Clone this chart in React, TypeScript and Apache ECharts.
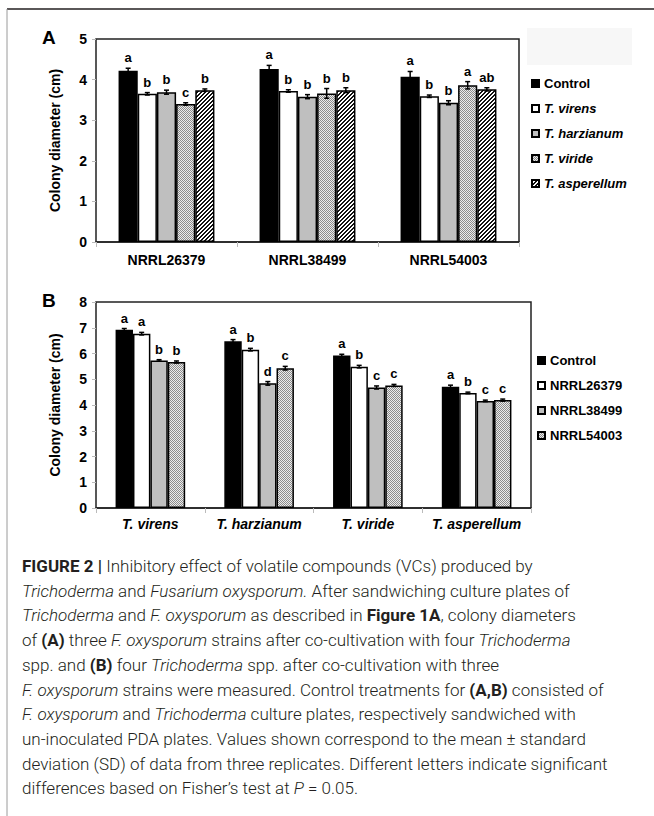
import React, { useEffect, useRef } from "react";
import * as echarts from "echarts";

// ---------- DATA ----------
const strainsA = ["NRRL26379", "NRRL38499", "NRRL54003"];
const seriesNamesA = ["Control", "T. virens", "T. harzianum", "T. viride", "T. asperellum"];
const controlA = [4.22, 4.26, 4.07];
const virensA = [3.65, 3.72, 3.59];
const harzianumA = [3.69, 3.58, 3.43];
const virideA = [3.4, 3.66, 3.86];
const asperellumA = [3.74, 3.74, 3.76];
const controlErrA = [0.06, 0.09, 0.13];
const virensErrA = [0.03, 0.03, 0.03];
const harzianumErrA = [0.05, 0.05, 0.05];
const virideErrA = [0.03, 0.12, 0.09];
const asperellumErrA = [0.03, 0.06, 0.04];
const controlLetA = ["a", "a", "a"];
const virensLetA = ["b", "b", "b"];
const harzianumLetA = ["b", "b", "b"];
const virideLetA = ["c", "b", "a"];
const asperellumLetA = ["b", "b", "ab"];

const speciesB = ["T. virens", "T. harzianum", "T. viride", "T. asperellum"];
const seriesNamesB = ["Control", "NRRL26379", "NRRL38499", "NRRL54003"];
const controlB = [6.92, 6.48, 5.92, 4.71];
const nrrl26379B = [6.77, 6.15, 5.49, 4.47];
const nrrl38499B = [5.73, 4.84, 4.68, 4.16];
const nrrl54003B = [5.67, 5.43, 4.76, 4.19];
const controlErrB = [0.05, 0.06, 0.05, 0.06];
const nrrl26379ErrB = [0.05, 0.05, 0.05, 0.03];
const nrrl38499ErrB = [0.03, 0.07, 0.06, 0.03];
const nrrl54003ErrB = [0.04, 0.07, 0.04, 0.04];
const controlLetB = ["a", "a", "a", "a"];
const nrrl26379LetB = ["a", "b", "b", "b"];
const nrrl38499LetB = ["b", "d", "c", "c"];
const nrrl54003LetB = ["b", "c", "c", "c"];

const yTicksA = { min: 0, max: 5, interval: 1 };
const yTicksB = { min: 0, max: 8, interval: 1 };

const captionLines = [
  "{b|FIGURE 2 |} Inhibitory effect of volatile compounds (VCs) produced by",
  "{i|Trichoderma} and {i|Fusarium oxysporum.} After sandwiching culture plates of",
  "{i|Trichoderma} and {i|F. oxysporum} as described in {b|Figure 1A}, colony diameters",
  "of {b|(A)} three {i|F. oxysporum} strains after co-cultivation with four {i|Trichoderma}",
  "spp. and {b|(B)} four {i|Trichoderma} spp. after co-cultivation with three",
  "{i|F. oxysporum} strains were measured. Control treatments for {b|(A,B)} consisted of",
  "{i|F. oxysporum} and {i|Trichoderma} culture plates, respectively sandwiched with",
  "un-inoculated PDA plates. Values shown correspond to the mean \u00b1 standard",
  "deviation (SD) of data from three replicates. Different letters indicate significant",
  "differences based on Fisher\u2019s test at {i|P} = 0.05.",
];

const FONT = "'Liberation Sans', Arial, sans-serif";
const CAP_FONT = "Roboto, 'Liberation Sans', sans-serif";

function makeChecker() {
  const c = document.createElement("canvas");
  c.width = 4;
  c.height = 4;
  const ctx = c.getContext("2d")!;
  ctx.fillStyle = "#ececec";
  ctx.fillRect(0, 0, 4, 4);
  ctx.fillStyle = "#8c8c8c";
  for (let y = 0; y < 4; y++)
    for (let x = 0; x < 4; x++) if ((x + y) % 2 === 0) ctx.fillRect(x, y, 1, 1);
  return { image: c, repeat: "repeat", imageWidth: 4, imageHeight: 4 };
}

function makeHatch() {
  const c = document.createElement("canvas");
  c.width = 4;
  c.height = 4;
  const ctx = c.getContext("2d")!;
  ctx.fillStyle = "#ffffff";
  ctx.fillRect(0, 0, 4, 4);
  ctx.fillStyle = "#111111";
  for (let y = 0; y < 4; y++)
    for (let x = 0; x < 4; x++) if ((x + y) % 4 < 2) ctx.fillRect(x, y, 1, 1);
  return { image: c, repeat: "repeat", imageWidth: 4, imageHeight: 4 };
}

function errSeries(
  axisIdx: number,
  sIdx: number,
  n: number,
  gap: number,
  vals: number[],
  errs: number[],
  letters: string[]
) {
  return {
    type: "custom",
    xAxisIndex: axisIdx,
    yAxisIndex: axisIdx,
    silent: true,
    z: 5,
    data: vals.map((v, i) => [i, v, errs[i]]),
    renderItem: (params: any, api: any) => {
      const ci = api.value(0);
      const v = api.value(1);
      const e = api.value(2);
      const band = api.size([1, 0])[0];
      const groupW = band * (1 - gap);
      const barW = groupW / n;
      const cx = api.coord([ci, 0])[0] - groupW / 2 + barW * (sIdx + 0.5);
      const yTop = api.coord([ci, v + e])[1];
      const yBot = api.coord([ci, v - e])[1];
      const st = { stroke: "#000", lineWidth: 1.5 };
      return {
        type: "group",
        children: [
          { type: "line", shape: { x1: cx, y1: yTop, x2: cx, y2: yBot }, style: st },
          { type: "line", shape: { x1: cx - 2.5, y1: yTop, x2: cx + 2.5, y2: yTop }, style: st },
          { type: "line", shape: { x1: cx - 2.5, y1: yBot, x2: cx + 2.5, y2: yBot }, style: st },
          {
            type: "text",
            x: cx,
            y: yTop - 4,
            style: {
              text: letters[params.dataIndex],
              fill: "#000",
              font: `bold 13px ${FONT}`,
              align: "center",
              verticalAlign: "bottom",
            },
          },
        ],
      };
    },
  };
}

export default function App() {
  const ref = useRef<HTMLDivElement>(null);

  useEffect(() => {
    if (!ref.current) return;
    const chart = echarts.init(ref.current, undefined, { renderer: "svg" });
    const checker = makeChecker();
    const hatch = makeHatch();
    const border = { borderColor: "#000", borderWidth: 1.5 };

    const colorsA: any[] = ["#000000", "#ffffff", "#bfbfbf", checker, hatch];
    const valsA = [controlA, virensA, harzianumA, virideA, asperellumA];
    const errsA = [controlErrA, virensErrA, harzianumErrA, virideErrA, asperellumErrA];
    const letsA = [controlLetA, virensLetA, harzianumLetA, virideLetA, asperellumLetA];
    const gapA = 0.32;

    const colorsB: any[] = ["#000000", "#ffffff", "#bfbfbf", checker];
    const valsB = [controlB, nrrl26379B, nrrl38499B, nrrl54003B];
    const errsB = [controlErrB, nrrl26379ErrB, nrrl38499ErrB, nrrl54003ErrB];
    const letsB = [controlLetB, nrrl26379LetB, nrrl38499LetB, nrrl54003LetB];
    const gapB = 0.36;

    const barsA = seriesNamesA.map((name, i) => ({
      type: "bar",
      name,
      xAxisIndex: 0,
      yAxisIndex: 0,
      data: valsA[i],
      barGap: "0%",
      barCategoryGap: gapA * 100 + "%",
      itemStyle: { color: colorsA[i], ...border },
    }));
    const barsB = seriesNamesB.map((name, i) => ({
      type: "bar",
      name,
      xAxisIndex: 1,
      yAxisIndex: 1,
      data: valsB[i],
      barGap: "0%",
      barCategoryGap: gapB * 100 + "%",
      itemStyle: { color: colorsB[i], ...border },
    }));
    const errA = seriesNamesA.map((_, i) =>
      errSeries(0, i, seriesNamesA.length, gapA, valsA[i], errsA[i], letsA[i])
    );
    const errB = seriesNamesB.map((_, i) =>
      errSeries(1, i, seriesNamesB.length, gapB, valsB[i], errsB[i], letsB[i])
    );

    const yAxisBase = (t: { min: number; max: number; interval: number }, idx: number) => ({
      type: "value",
      gridIndex: idx,
      min: t.min,
      max: t.max,
      interval: t.interval,
      name: "Colony diameter (cm)",
      nameLocation: "middle",
      nameGap: 34,
      nameTextStyle: { fontFamily: FONT, fontWeight: "bold", fontSize: 14, color: "#000" },
      axisLine: { show: false },
      axisTick: { show: true, length: 4, lineStyle: { color: "#bbb" } },
      axisLabel: { fontFamily: FONT, fontWeight: "bold", fontSize: 14, color: "#000", margin: 9 },
      splitLine: { show: false },
    });

    const legendText = {
      fontFamily: FONT,
      fontWeight: "bold",
      fontSize: 13,
      color: "#000",
      lineHeight: 15,
      rich: {
        i: { fontFamily: FONT, fontWeight: "bold", fontStyle: "italic", fontSize: 13, color: "#000" },
      },
    };

    const option: any = {
      animation: false,
      backgroundColor: "#fff",
      grid: [
        { left: 96, top: 39, width: 423, height: 203, show: true, borderColor: "#222", borderWidth: 1.5 },
        { left: 96, top: 302, width: 435, height: 206, show: true, borderColor: "#222", borderWidth: 1.5 },
      ],
      xAxis: [
        {
          type: "category",
          gridIndex: 0,
          data: strainsA,
          axisLine: { lineStyle: { color: "#222", width: 1.5 } },
          axisTick: { show: true, length: 5, lineStyle: { color: "#bbb" } },
          axisLabel: {
            interval: 0,
            fontFamily: FONT,
            fontWeight: "bold",
            fontSize: 14,
            color: "#000",
            margin: 11,
          },
        },
        {
          type: "category",
          gridIndex: 1,
          data: speciesB,
          axisLine: { lineStyle: { color: "#222", width: 1.5 } },
          axisTick: { show: true, length: 5, lineStyle: { color: "#bbb" } },
          axisLabel: {
            interval: 0,
            fontFamily: FONT,
            fontWeight: "bold",
            fontStyle: "italic",
            fontSize: 14,
            color: "#000",
            margin: 9,
          },
        },
      ],
      yAxis: [yAxisBase(yTicksA, 0), yAxisBase(yTicksB, 1)],
      legend: [
        {
          data: seriesNamesA,
          orient: "vertical",
          left: 531,
          top: 76,
          padding: 0,
          itemWidth: 7,
          itemHeight: 7,
          itemGap: 10,
          icon: "rect",
          selectedMode: false,
          textStyle: legendText,
          formatter: (n: string) => (n === "Control" ? n : `{i|${n}}`),
        },
        {
          data: seriesNamesB,
          orient: "vertical",
          left: 537,
          top: 353,
          padding: 0,
          itemWidth: 7,
          itemHeight: 7,
          itemGap: 10,
          icon: "rect",
          selectedMode: false,
          textStyle: legendText,
        },
      ],
      graphic: [
        { type: "line", shape: { x1: 7, y1: 9, x2: 654, y2: 9 }, style: { stroke: "#231f20", lineWidth: 1.5 } },
        { type: "line", shape: { x1: 7, y1: 9, x2: 7, y2: 816 }, style: { stroke: "#9a9a9a", lineWidth: 1 } },
        { type: "rect", shape: { x: 527, y: 28, width: 105, height: 37 }, style: { fill: "#f7f7f7" } },
        {
          type: "text",
          x: 42,
          y: 37,
          style: { text: "A", font: `bold 19px ${FONT}`, fill: "#000", verticalAlign: "middle" },
        },
        {
          type: "text",
          x: 42,
          y: 300,
          style: { text: "B", font: `bold 19px ${FONT}`, fill: "#000", verticalAlign: "middle" },
        },
        ...captionLines.map((line, i) => ({
          type: "text",
          x: 22,
          y: 566 + i * 24.7,
          style: {
            text: line,
            fontFamily: CAP_FONT,
            fontSize: 17,
            fontWeight: 300,
            fill: "#231f20",
            verticalAlign: "middle",
            rich: {
              b: { fontFamily: CAP_FONT, fontSize: 17, fontWeight: "bold", fill: "#231f20" },
              i: { fontFamily: CAP_FONT, fontSize: 17, fontWeight: 300, fontStyle: "italic", fill: "#231f20" },
            },
          },
        })),
      ],
      series: [...barsA, ...barsB, ...errA, ...errB],
    };
    chart.setOption(option);
    return () => chart.dispose();
  }, []);

  return (
    <div
      ref={ref}
      style={{ position: "absolute", left: 0, top: 0, width: 654, height: 816 }}
    />
  );
}
